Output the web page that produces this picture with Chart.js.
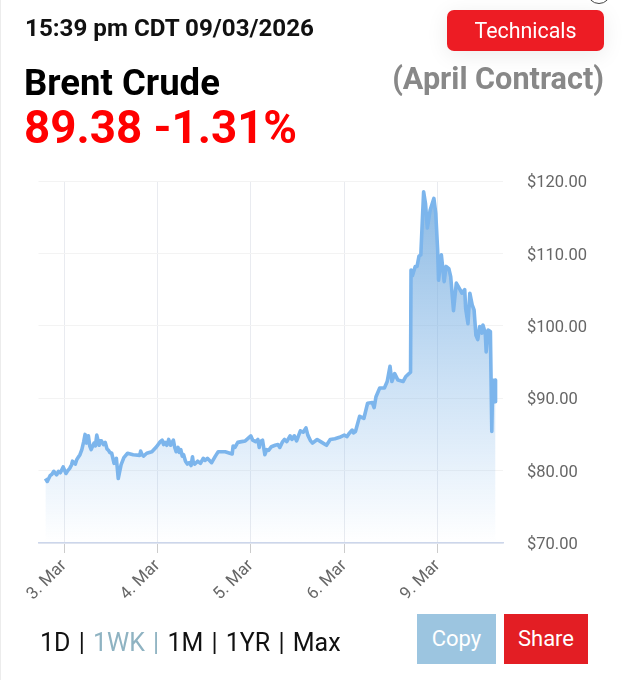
<!DOCTYPE html>
<html>
<head>
<meta charset="utf-8">
<title>Brent Crude</title>
<script src="https://cdn.jsdelivr.net/npm/chart.js@4"></script>
<style>
  html, body { margin: 0; padding: 0; background: #fff; }
  body { width: 623px; height: 680px; position: relative; overflow: hidden; font-family: Roboto, sans-serif; }
  #leftEdge { position: absolute; left: 0; top: 0; width: 1px; height: 680px; background: #ececec; }
  #chart { position: absolute; left: 0; top: 0; }
  .txt { position: absolute; white-space: nowrap; line-height: 1; }
  #stamp { left: 25px; top: 16px; font-size: 24.2px; font-weight: 700; color: #111; }
  #name { left: 24px; top: 65px; font-size: 36.5px; font-weight: 700; color: #000; }
  #contract { right: 19px; top: 64px; font-size: 30.6px; font-weight: 700; color: #888; }
  #quote { left: 24px; top: 105px; font-size: 45.7px; font-weight: 700; color: #f00; }
  #technicals { position: absolute; left: 447px; top: 10px; width: 157px; height: 41px; background: #ed1c24; border-radius: 7px;
    color: #fff; font-size: 21.4px; line-height: 41px; text-align: center; box-shadow: 0 4px 22px rgba(0,0,0,.08); }
  #dot { position: absolute; left: 587px; top: -20px; width: 22px; height: 22px; border: 1.5px solid #444; border-radius: 50%; }
  #ranges { left: 40px; top: 630px; font-size: 25px; word-spacing: 2px; color: #111; }
  #ranges span { color: #8fb3c2; }
  .btn { position: absolute; top: 614px; height: 50px; line-height: 49px; text-align: center; color: #fff; font-size: 22px; }
  #copy { left: 417px; width: 79px; background: #9cc5e0; }
  #share { left: 504px; width: 84px; background: #e31e24; }
</style>
</head>
<body>
<div id="leftEdge"></div>
<canvas id="chart" width="623" height="680"></canvas>
<div class="txt" id="stamp">15:39 pm CDT 09/03/2026</div>
<div class="txt" id="name">Brent Crude</div>
<div class="txt" id="contract">(April Contract)</div>
<div class="txt" id="quote">89.38 -1.31%</div>
<div id="dot"></div>
<div id="technicals">Technicals</div>
<div class="txt" id="ranges">1D | <span>1WK |</span> 1M | 1YR | Max</div>
<div class="btn" id="copy">Copy</div>
<div class="btn" id="share">Share</div>
<script>
  // Sessions along the x axis, 0 = 3. Mar, 1 = 4. Mar and so on
  const tickLabels = ['3. Mar', '4. Mar', '5. Mar', '6. Mar', '9. Mar'];
  const yTicks = [70, 80, 90, 100, 110, 120];

  const sessionPos = [
    -0.20, -0.18, -0.15, -0.13, -0.11, -0.08, -0.06, -0.04, -0.01, 0.02,
    0.04, 0.06, 0.08, 0.09, 0.12, 0.135, 0.15, 0.17, 0.19, 0.21,
    0.225, 0.24, 0.26, 0.275, 0.29, 0.32, 0.335, 0.35, 0.375, 0.385,
    0.40, 0.42, 0.44, 0.46, 0.475, 0.49, 0.51, 0.535, 0.56, 0.58,
    0.61, 0.64, 0.68, 0.74, 0.81, 0.82, 0.835, 0.85, 0.885, 0.94,
    0.99, 1.03, 1.05, 1.065, 1.08, 1.10, 1.12, 1.14, 1.17, 1.185,
    1.20, 1.22, 1.235, 1.25, 1.265, 1.28, 1.30, 1.32, 1.34, 1.36,
    1.375, 1.385, 1.40, 1.43, 1.46, 1.49, 1.51, 1.535, 1.58, 1.62,
    1.65, 1.725, 1.80, 1.81, 1.83, 1.86, 1.90, 1.94, 2.00, 2.02,
    2.05, 2.075, 2.09, 2.10, 2.125, 2.15, 2.17, 2.19, 2.22, 2.26,
    2.29, 2.31, 2.34, 2.36, 2.385, 2.42, 2.44, 2.465, 2.49, 2.53,
    2.56, 2.59, 2.61, 2.64, 2.66, 2.71, 2.76, 2.81, 2.85, 2.90,
    2.95, 3.00, 3.03, 3.05, 3.085, 3.10, 3.12, 3.165, 3.21, 3.25,
    3.30, 3.32, 3.34, 3.38, 3.43, 3.46, 3.49, 3.51, 3.54, 3.575, 3.63, 3.66, 3.71, 3.715, 3.73, 3.76, 3.78, 3.80, 3.82,
    3.85, 3.87, 3.89, 3.92, 3.96, 3.98, 4.00, 4.01, 4.04, 4.07, 4.09, 4.12, 4.14, 4.17, 4.20, 4.24, 4.26, 4.29,
    4.30, 4.325, 4.345, 4.37, 4.39, 4.41, 4.43, 4.45, 4.475, 4.485, 4.51, 4.52, 4.54, 4.565, 4.58, 4.59, 4.61, 4.615, 4.62
  ];
  const brentPrice = [
    78.9, 78.5, 79.3, 79.5, 79.9, 79.4, 79.9, 79.7, 80.5, 79.6,
    80.0, 80.3, 80.8, 81.3, 80.9, 81.5, 81.8, 82.2, 82.9, 84.0,
    85.0, 83.8, 84.8, 83.4, 82.9, 83.8, 83.4, 84.9, 83.5, 84.1,
    84.1, 83.6, 83.9, 83.0, 82.8, 82.5, 82.4, 81.0, 81.7, 78.9,
    80.8, 81.8, 82.4, 82.2, 82.1, 82.7, 82.2, 82.0, 82.4, 82.6,
    83.3, 84.0, 84.2, 83.6, 83.9, 83.5, 84.3, 83.5, 84.2, 83.2,
    82.6, 83.2, 82.5, 82.9, 82.0, 82.2, 81.3, 80.9, 81.1, 80.7,
    81.9, 81.0, 80.9, 81.3, 81.0, 81.7, 81.4, 81.7, 81.1, 82.0,
    82.6, 82.6, 82.3, 83.4, 83.2, 83.9, 84.0, 84.1, 84.8, 84.2,
    84.0, 84.3, 83.2, 84.0, 84.2, 82.2, 82.9, 82.8, 83.3, 83.5,
    83.6, 83.2, 84.0, 84.3, 84.0, 84.8, 84.3, 84.8, 84.1, 85.5,
    85.3, 85.9, 84.9, 84.1, 83.8, 84.3, 83.9, 83.5, 84.3, 84.4,
    84.6, 84.9, 84.7, 85.1, 85.6, 85.2, 85.4, 87.5, 87.2, 89.3,
    89.4, 88.7, 90.2, 91.4, 91.4, 92.3, 94.4, 92.3, 93.4, 92.5, 92.3, 93.0, 93.6, 107.7, 106.9, 108.2, 108.2, 109.6, 109.8,
    118.5, 116.9, 113.5, 116.0, 117.6, 115.5, 110.5, 106.3, 109.8, 106.1, 108.2, 107.9, 106.8, 102.1, 105.9, 105.0, 104.5, 105.0,
    102.4, 100.3, 104.5, 102.9, 102.2, 98.7, 98.1, 99.9, 99.0, 100.1, 99.0, 96.4, 99.4, 99.2, 85.4, 92.5, 89.5, 92.5, 89.5
  ];

  function areaGradient(context) {
    const area = context.chart.chartArea;
    if (!area) return 'rgba(124,181,236,0.4)';
    const g = context.chart.ctx.createLinearGradient(0, area.top, 0, area.bottom);
    g.addColorStop(0, 'rgba(115,170,220,0.85)');
    g.addColorStop(1, 'rgba(124,181,236,0)');
    return g;
  }

  // the y labels sit a little under their grid lines in the original
  const nudgeYLabels = {
    id: 'nudgeYLabels',
    afterLayout(chart) {
      const yScale = chart.scales.y;
      const drawLabels = yScale.drawLabels;
      if (yScale.nudged) return;
      yScale.nudged = true;
      yScale.drawLabels = function (area) {
        chart.ctx.save();
        chart.ctx.translate(0, 2);
        drawLabels.call(yScale, area);
        chart.ctx.restore();
      };
    },
  };

  new Chart(document.getElementById('chart').getContext('2d'), {
    type: 'line',
    plugins: [nudgeYLabels],
    data: {
      datasets: [{
        data: sessionPos.map((x, i) => ({ x: x, y: brentPrice[i] })),
        borderColor: '#7cb5ec',
        borderWidth: 3.6,
        borderJoinStyle: 'round',
        backgroundColor: areaGradient,
        fill: 'start',
        pointRadius: 0,
        tension: 0,
      }],
    },
    options: {
      responsive: false,
      animation: false,
      layout: { padding: { left: 38.5, top: 181 } },
      plugins: { legend: { display: false }, tooltip: { enabled: false } },
      scales: {
        x: {
          type: 'linear',
          min: -0.274,
          max: 4.70,
          afterBuildTicks: (axis) => { axis.ticks = tickLabels.map((_, i) => ({ value: i })); },
          afterFit: (axis) => { axis.height = 137; },
          grid: { color: '#e9ebf0', tickColor: '#ccc', tickLength: 10 },
          border: { color: '#ccd6eb', width: 1.5 },
          ticks: {
            autoSkip: false,
            minRotation: 45,
            maxRotation: 45,
            padding: 3,
            color: '#666',
            font: { family: 'Roboto', size: 17 },
            callback: (value) => tickLabels[value],
          },
        },
        y: {
          position: 'right',
          min: 70,
          max: 120,
          afterBuildTicks: (axis) => { axis.ticks = yTicks.map((v) => ({ value: v })); },
          afterFit: (axis) => { axis.width = 120; },
          grid: { color: '#f3f3f3', drawTicks: false },
          border: { display: false },
          ticks: {
            padding: 24,
            color: '#666',
            font: { family: 'Roboto', size: 16.5 },
            callback: (value) => '$' + value.toFixed(2),
          },
        },
      },
    },
  });
</script>
</body>
</html>
